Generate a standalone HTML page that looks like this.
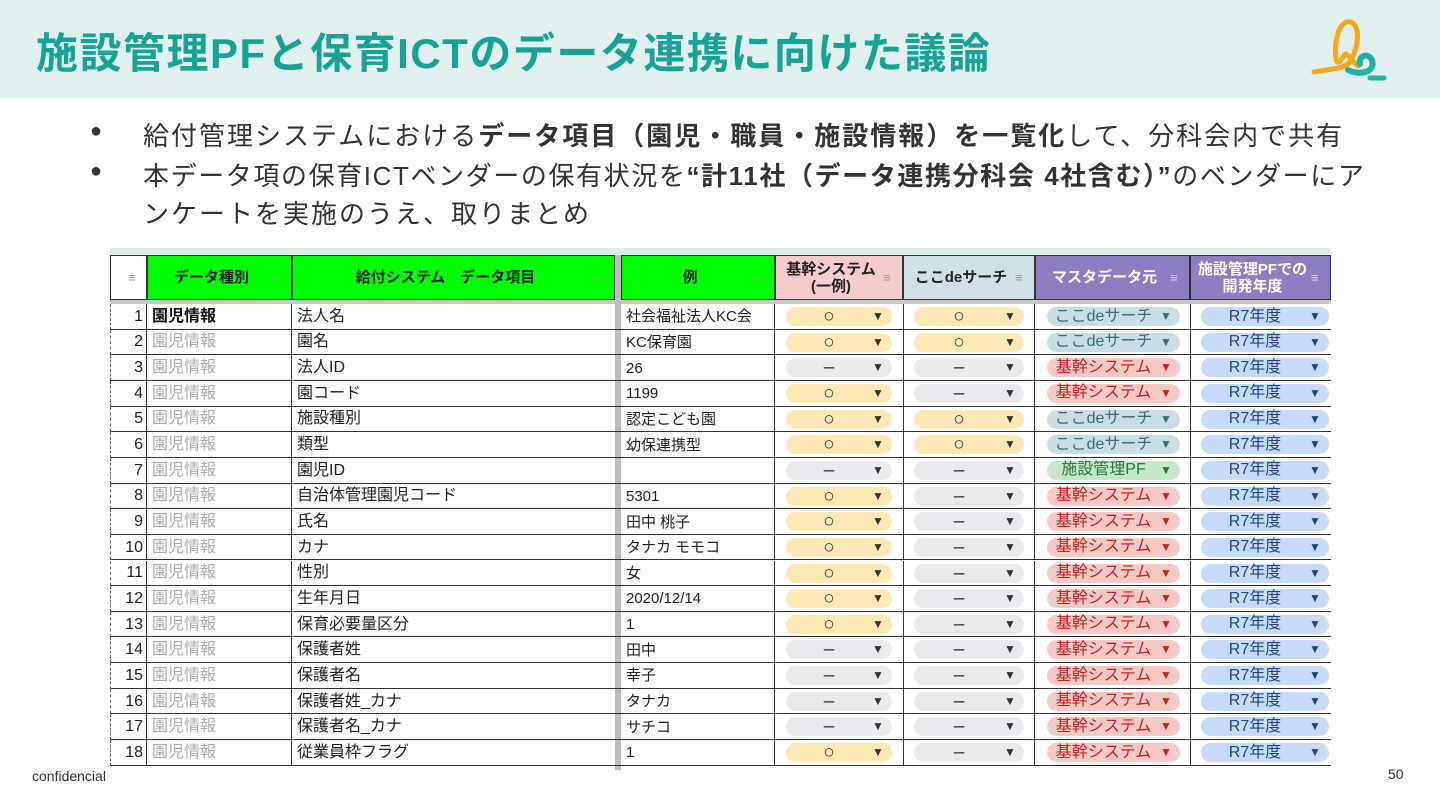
<!DOCTYPE html>
<html><head><meta charset="utf-8">
<style>
*{margin:0;padding:0;box-sizing:border-box}
body{width:1440px;height:810px;overflow:hidden;background:#fff;position:relative;font-family:"Liberation Sans","Noto Sans CJK JP",sans-serif;color:#222}
.band{position:absolute;left:0;top:0;width:1440px;height:98px;background:#e1efef}
.title{position:absolute;left:36px;top:20px;font-size:42px;font-weight:bold;color:#16a394;letter-spacing:1.5px;white-space:nowrap}
.bul{position:absolute;left:90px;font-size:26px;color:#333;white-space:nowrap;letter-spacing:2px}
.bul .dot{position:absolute;left:0;top:0;font-size:20px;letter-spacing:0}
.bul .t{position:absolute;left:53px;top:0}
.c{position:absolute;overflow:hidden;white-space:nowrap;font-size:15px;display:flex;align-items:center;line-height:1}
.pill{position:absolute;border-radius:10px;font-size:15px;display:flex;align-items:center;justify-content:center;line-height:1}
.arr{position:absolute;font-size:12px}
.foot{position:absolute;font-size:14px;color:#333}
</style></head><body>
<div class="band"></div>
<div class="title">施設管理PFと保育ICTのデータ連携に向けた議論</div>
<svg style="position:absolute;left:1310px;top:14px" width="80" height="70">
<path d="M4 58 C20 55 35 55 40 48 C50 30 50 10 40 8 C28 6 24 30 26 45 C28 55 35 38 36 40 C40 42 45 50 48 52" stroke="#f5a81c" stroke-width="5" fill="none" stroke-linecap="round"/>
<path d="M38 56 C50 62 66 58 62 46 C58 38 48 42 50 50" stroke="#21b3a2" stroke-width="6" fill="none" stroke-linecap="round"/>
<path d="M60 64 L74 64" stroke="#21b3a2" stroke-width="5" stroke-linecap="round"/>
</svg>
<div class="bul" style="top:116px"><span class="dot" style="top:4px">●</span><span class="t">給付管理システムにおける<b>データ項目（園児・職員・施設情報）を一覧化</b>して、分科会内で共有</span></div>
<div class="bul" style="top:156px"><span class="dot" style="top:4px">●</span><span class="t" style="letter-spacing:1.6px">本データ項の保育ICTベンダーの保有状況を<b>“計11社（データ連携分科会 4社含む）”</b>のベンダーにア</span></div>
<div class="bul" style="top:194px"><span class="t">ンケートを実施のうえ、取りまとめ</span></div>
<div id="tbl"></div>
<div class="foot" style="left:32px;top:768px">confidencial</div>
<div class="foot" style="left:1388px;top:766px">50</div>
<script>
const items=["法人名","園名","法人ID","園コード","施設種別","類型","園児ID","自治体管理園児コード","氏名","カナ","性別","生年月日","保育必要量区分","保護者姓","保護者名","保護者姓_カナ","保護者名_カナ","従業員枠フラグ"];
const examples=["社会福祉法人KC会","KC保育園","26","1199","認定こども園","幼保連携型","","5301","田中 桃子","タナカ モモコ","女","2020/12/14","1","田中","幸子","タナカ","サチコ","1"];
const kikan=["○","○","–","○","○","○","–","○","○","○","○","○","○","–","–","–","–","○"];
const koko=["○","○","–","–","○","○","–","–","–","–","–","–","–","–","–","–","–","–"];
const master=["ここdeサーチ","ここdeサーチ","基幹システム","基幹システム","ここdeサーチ","ここdeサーチ","施設管理PF","基幹システム","基幹システム","基幹システム","基幹システム","基幹システム","基幹システム","基幹システム","基幹システム","基幹システム","基幹システム","基幹システム"];
const nendo=Array(18).fill("R7年度");
const T=document.getElementById('tbl');
function add(cls,css,html,name){const d=document.createElement('div');d.className=cls;d.style.cssText=css;d.innerHTML=html;


T.appendChild(d);return d;}
const X=[110,147,292,615,621,775,903,1035,1190,1331];
add('c','left:110px;top:248px;width:1221px;height:7px;background:#dfeee4','','header-strip');
const hdr=[["",'#fff'],["データ種別",'#00ff00'],["給付システム　データ項目",'#00ff00'],null,["例",'#00ff00'],["基幹システム<br>(一例)",'#f4cccc'],["ここdeサーチ",'#d0e0e3'],["マスタデータ元",'#8e7cc3'],["施設管理PFでの<br>開発年度",'#8e7cc3']];
for(let i=0;i<9;i++){
 if(!hdr[i])continue;
 const col=i>=7?'#fff':'#222';
 add('c',`left:${X[i]}px;top:255px;width:${X[i+1]-X[i]}px;height:45px;background:${hdr[i][1]};border:1.5px solid #333;justify-content:center;text-align:center;font-weight:bold;font-size:15px;line-height:17px;color:${col};padding-right:${i>0?16:0}px`,hdr[i][0],'header-cell');
 add('c',`left:${i==0?X[i]+18:X[i+1]-20}px;top:270px;width:12px;height:14px;color:${i>=7?'#ddd':'#999'};font-size:13px`,'≡','filter-icon');
}
add('c','left:110px;top:300px;width:1221px;height:4px;background:#c8c8c8','','header-divider');
add('c','left:615px;top:255px;width:6px;height:515px;background:#bdbdbd','','freeze-divider');
const pc={"○":["#fce8b2","#333"],"–":["#e8eaed","#333"],"ここdeサーチ":["#c9dde3","#3b6a78"],"基幹システム":["#f6c9c6","#c5221f"],"施設管理PF":["#c8e6c9","#1e7b34"],"R7年度":["#c9daf8","#1c4587"]};
function pill(x,w,y,v,name){const c=pc[v];
 const big=(v=="○"||v=="–");
 add('pill',`left:${x}px;top:${y}px;width:${w}px;height:19px;background:${c[0]};color:${c[1]};padding-right:20px;font-size:${big?19:16}px`,v,name);
 add('arr',`left:${x+w-20}px;top:${y+2}px;color:${c[1]}`,'▼',name+'-arrow');}
const RH=25.65;
for(let r=0;r<18;r++){
 const y=304+r*RH;
 add('c',`left:110px;top:${y}px;width:1221px;height:${RH}px;border-bottom:1.5px solid #333`,'','row-'+(r+1));
 add('c',`left:110px;top:${y}px;width:37px;height:${RH}px;justify-content:flex-end;padding-right:3px;border-right:1.5px solid #333;border-left:1px dashed #666;font-size:16px`,String(r+1),'row-number');
 add('c',`left:147px;top:${y}px;width:145px;height:${RH}px;padding-left:5px;border-right:1.5px solid #333;font-size:16px;${r==0?'font-weight:bold;color:#111':'color:#aaa'}`,'園児情報','data-type');
 add('c',`left:292px;top:${y}px;width:323px;height:${RH}px;padding-left:5px;font-size:16px`,items[r],'item-name');
 add('c',`left:621px;top:${y}px;width:154px;height:${RH}px;padding-left:5px;border-right:1.5px solid #333;font-size:15px`,examples[r],'example');
 add('c',`left:903px;top:${y}px;width:132px;height:${RH}px;border-left:1.5px solid #333;border-right:1.5px solid #333`,'','koko-cell');
 add('c',`left:1190px;top:${y}px;width:1px;height:${RH}px;border-left:1.5px solid #333`,'','col-sep');
 const py=y+3;
 pill(786,106,py,kikan[r],'kikan-pill');
 pill(914,110,py,koko[r],'koko-pill');
 pill(1047,133,py,master[r],'master-pill');
 pill(1201,128,py,nendo[r],'nendo-pill');
}
</script>
</body></html>
